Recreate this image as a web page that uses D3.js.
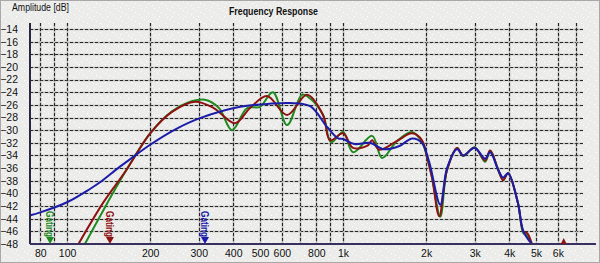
<!DOCTYPE html>
<html>
<head>
<meta charset="utf-8">
<script src="https://cdn.jsdelivr.net/npm/d3@7"></script>
<style>
  body { margin: 0; background: #ecedeb; }
  svg { display: block; font-family: "Liberation Sans", Arial, sans-serif; }
</style>
</head>
<body>
<div id="chart-area"></div>
<script>
var width = 600;
var height = 263;

// frequency grid + labels
var gridFreqs = [80, 90, 100, 200, 300, 400, 500, 600, 700, 800, 900, 1000, 2000, 3000, 4000, 5000, 6000, 7000];
var labelFreqs = [80, 100, 200, 300, 400, 500, 600, 800, 1000, 2000, 3000, 4000, 5000, 6000];
var dbTicks = [-14, -16, -18, -20, -22, -24, -26, -28, -30, -32, -34, -36, -38, -40, -42, -44, -46, -48];

// series (Hz, dB)
var greenFreq = [116, 140, 164, 200, 240, 275, 316, 355, 396, 449, 500, 557, 627, 710, 760, 846, 905, 1000, 1087, 1274, 1385, 1569, 1778, 1932, 2016, 2100, 2250, 2380, 2590, 2720, 3000, 3270, 3410, 3650, 3800, 3960, 4300, 4500, 4620, 4830];
var greenDb   = [-48, -41.5, -36.3, -30.5, -27.0, -25.6, -25.2, -26.5, -30.0, -26.5, -26.3, -24.0, -29.2, -24.4, -25.0, -27.6, -31.9, -30.3, -33.5, -30.9, -34.4, -31.7, -30.3, -31.9, -34.3, -37.5, -43.7, -36.3, -32.8, -34.1, -32.7, -35.0, -33.2, -36.3, -37.9, -36.8, -41.5, -46.3, -46.6, -48];

var redFreq = [110, 135, 164, 200, 240, 291, 340, 406, 460, 530, 627, 740, 846, 897, 1000, 1087, 1230, 1274, 1350, 1569, 1778, 1932, 2016, 2100, 2230, 2380, 2590, 2720, 3000, 3270, 3410, 3650, 3800, 3960, 4300, 4500, 4650, 4830];
var redDb   = [-48, -41.5, -36.3, -30.5, -27.1, -25.5, -26.5, -28.9, -26.5, -24.6, -27.6, -24.4, -27.6, -31.6, -30.5, -32.8, -32.4, -31.6, -33.1, -31.7, -30.5, -31.6, -34.3, -37.5, -43.6, -36.3, -32.8, -34.0, -32.8, -34.8, -33.2, -36.3, -37.9, -36.8, -41.5, -46.0, -46.3, -48];

var blueFreq = [73, 80, 100, 121, 132, 153, 169, 200, 246, 303, 424, 550, 640, 760, 875, 960, 1000, 1100, 1250, 1400, 1600, 1780, 1930, 2050, 2250, 2380, 2590, 2720, 3000, 3270, 3410, 3650, 3800, 3960, 4300, 4500, 4830];
var blueDb   = [-43.5, -43.0, -41.4, -39.3, -38.2, -36.0, -34.6, -32.3, -29.9, -28.1, -26.3, -25.8, -25.7, -26.2, -29.5, -31.3, -31.4, -32.2, -32.0, -33.0, -32.5, -31.3, -32.0, -35.0, -41.8, -36.0, -33.0, -34.0, -32.8, -34.5, -33.5, -36.3, -37.5, -36.8, -41.5, -46.0, -48];

// gating markers
var gateNames = ["Gating", "Gating", "Gating"];
var gateFreqs = [86.8, 143, 316];
var gateColors = ["#1f8a1f", "#8e1212", "#1c1caa"];

var pLeft = 30, pRight = 583, pTop = 23, pBottom = 244;

var x = d3.scaleLog().domain([73.4, 7400]).range([pLeft, pRight]);
var y = d3.scaleLinear().domain([-48, -14]).range([pBottom, 29]);

var svg = d3.select("#chart-area").append("svg")
    .attr("width", width)
    .attr("height", height);

// speckled background like the original bitmap
var pat = svg.append("defs").append("pattern")
    .attr("id", "speckle")
    .attr("width", 13).attr("height", 9)
    .attr("patternUnits", "userSpaceOnUse");
pat.append("rect").attr("width", 13).attr("height", 9).attr("fill", "#ecedeb");
[[1, 1], [5, 3], [9, 5], [3, 7], [11, 8]].forEach(p => {
    pat.append("rect").attr("x", p[0]).attr("y", p[1])
        .attr("width", 1).attr("height", 1).attr("fill", "#ffffff");
});

svg.append("rect")
    .attr("x", 0.5).attr("y", 0.5)
    .attr("width", width - 1).attr("height", height - 1)
    .attr("fill", "url(#speckle)")
    .attr("stroke", "#a8a8a8");

svg.append("text")
    .attr("x", 12).attr("y", 11)
    .attr("font-size", 10)
    .attr("textLength", 57)
    .attr("lengthAdjust", "spacingAndGlyphs")
    .attr("fill", "#111")
    .text("Amplitude [dB]");

svg.append("text")
    .attr("x", 229).attr("y", 15)
    .attr("font-size", 10.5)
    .attr("font-weight", "bold")
    .attr("textLength", 89)
    .attr("lengthAdjust", "spacingAndGlyphs")
    .attr("fill", "#111")
    .text("Frequency Response");

// grid
var grid = svg.append("g");
dbTicks.filter(d => d > -48).forEach(d => {
    var gy = Math.round(y(d)) + 0.5;
    grid.append("line")
        .attr("x1", pLeft).attr("x2", pRight)
        .attr("y1", gy).attr("y2", gy)
        .attr("stroke", "#b2b2b2").attr("stroke-width", 1.5);
    grid.append("line")
        .attr("x1", pLeft).attr("x2", pRight)
        .attr("y1", gy).attr("y2", gy)
        .attr("stroke", "#262626").attr("stroke-width", 1.1)
        .attr("stroke-dasharray", "3,2");
});
gridFreqs.forEach(f => {
    var gx = Math.round(x(f)) + 0.5;
    grid.append("line")
        .attr("x1", gx).attr("x2", gx)
        .attr("y1", pTop).attr("y2", pBottom)
        .attr("stroke", "#b2b2b2").attr("stroke-width", 1.5);
    grid.append("line")
        .attr("x1", gx).attr("x2", gx)
        .attr("y1", pTop).attr("y2", pBottom)
        .attr("stroke", "#262626").attr("stroke-width", 1.1)
        .attr("stroke-dasharray", "3,2");
});

// axes labels
var yAxis = svg.append("g")
    .attr("transform", "translate(" + pLeft + ",0)")
    .call(d3.axisLeft(y).tickValues(dbTicks).tickSize(0).tickPadding(12));
yAxis.select(".domain").remove();
yAxis.selectAll("text").attr("font-size", 10.5).attr("fill", "#111")
    .attr("font-family", "'Liberation Sans', Arial, sans-serif");

var xAxis = svg.append("g")
    .attr("transform", "translate(0," + pBottom + ")")
    .call(d3.axisBottom(x).tickValues(labelFreqs).tickSize(0).tickPadding(6)
        .tickFormat(d => d >= 1000 ? (d / 1000) + "k" : d));
xAxis.select(".domain").remove();
xAxis.selectAll("text").attr("font-size", 10.5).attr("fill", "#111")
    .attr("font-family", "'Liberation Sans', Arial, sans-serif");

// curves
svg.append("clipPath").attr("id", "plot")
    .append("rect").attr("x", pLeft).attr("y", pTop)
    .attr("width", pRight - pLeft).attr("height", pBottom - pTop);

var line = d3.line()
    .x(d => x(d[0]))
    .y(d => y(d[1]))
    .curve(d3.curveCatmullRom.alpha(0.5));

var series = [
    { f: greenFreq, v: greenDb, c: "#1f8a1f" },
    { f: redFreq, v: redDb, c: "#8e1212" },
    { f: blueFreq, v: blueDb, c: "#1c1caa" }
];
series.forEach(s => {
    svg.append("path")
        .datum(d3.zip(s.f, s.v))
        .attr("clip-path", "url(#plot)")
        .attr("fill", "none")
        .attr("stroke", s.c)
        .attr("stroke-width", 2)
        .attr("d", line);
});

// axis lines
svg.append("line")
    .attr("x1", pLeft).attr("x2", pLeft)
    .attr("y1", pTop).attr("y2", pBottom)
    .attr("stroke", "#2a2540").attr("stroke-width", 2);
svg.append("line")
    .attr("x1", pLeft).attr("x2", 596)
    .attr("y1", pBottom).attr("y2", pBottom)
    .attr("stroke", "#3a3060").attr("stroke-width", 2);

// gating markers
gateFreqs.forEach((f, i) => {
    var gx = x(f);
    var g = svg.append("g").attr("fill", gateColors[i]);
    g.append("text")
        .attr("transform", "translate(" + (gx - 4) + ",211) rotate(90)")
        .attr("font-size", 10.5)
        .attr("font-weight", "bold")
        .attr("textLength", 26)
        .attr("lengthAdjust", "spacingAndGlyphs")
        .text(gateNames[i]);
    g.append("path")
        .attr("d", "M" + (gx - 4) + "," + (pBottom - 7) + "L" + (gx + 4) + "," + (pBottom - 7) + "L" + gx + "," + pBottom + "Z");
});

// small marker near 6k
svg.append("path")
    .attr("d", "M" + (x(6300) - 3) + "," + pBottom + "L" + (x(6300) + 3) + "," + pBottom + "L" + x(6300) + "," + (pBottom - 6) + "Z")
    .attr("fill", "#8e1212");
</script>
</body>
</html>
